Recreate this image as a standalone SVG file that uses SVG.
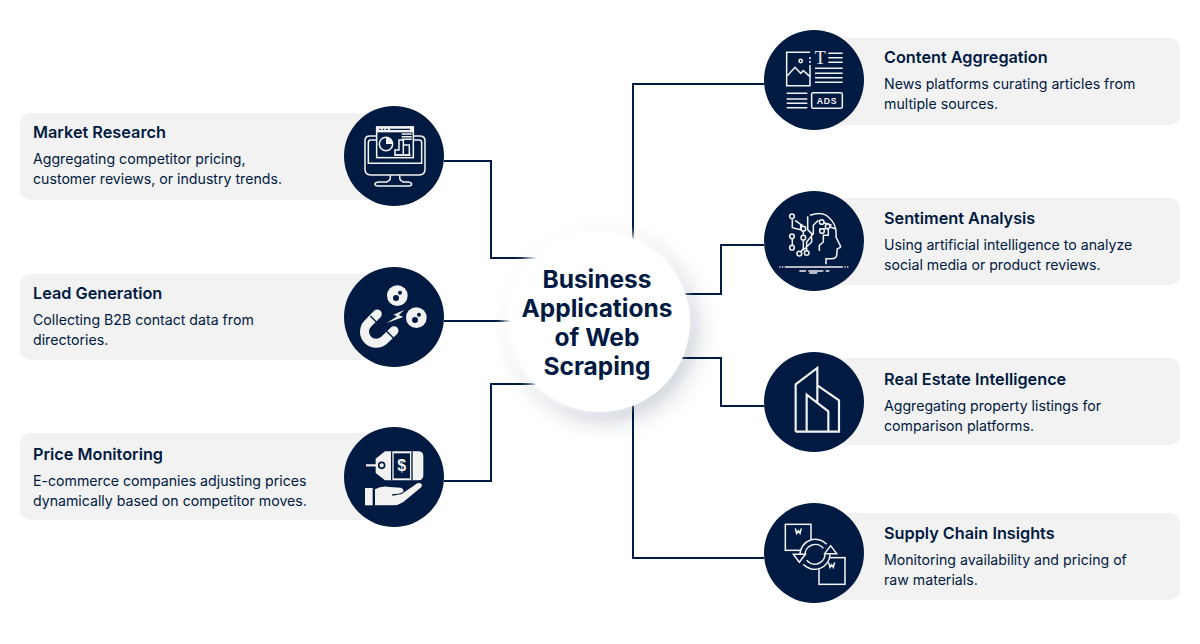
<svg xmlns="http://www.w3.org/2000/svg" width="1200" height="644" viewBox="0 0 1200 644">
<style>
.card{fill:#f2f2f2}
.disc{fill:#001a41}
.t{font-family:Inter,"Liberation Sans",sans-serif;font-size:16.25px;font-weight:600;fill:#001a41}
.b{font-family:Inter,"Liberation Sans",sans-serif;font-size:14.15px;fill:#001a41}
.c{font-family:Inter,"Liberation Sans",sans-serif;font-size:24.5px;font-weight:700;fill:#001a41;text-anchor:middle}
.l{fill:none;stroke:#f2f2f2;stroke-width:6.5}
.l2{fill:none;stroke:#f2f2f2;stroke-width:4.6}
.f{fill:#f2f2f2}
.n{fill:#001a41}
.nl{fill:none;stroke:#001a41;stroke-width:4}
.con{fill:none;stroke:#001a41;stroke-width:2}
.g{font-family:"Liberation Sans",sans-serif;font-weight:700;fill:#f2f2f2;text-anchor:middle}
</style>
<defs>
<filter id="sh" x="-40%" y="-40%" width="180%" height="180%"><feGaussianBlur stdDeviation="13"/></filter>
<filter id="hl" x="-20%" y="-20%" width="140%" height="140%"><feGaussianBlur stdDeviation="5"/></filter>
</defs>
<rect width="1200" height="644" fill="#fff"/>
<g id="connectors">
<path class="con" d="M444 161H491V258H540"/>
<path class="con" d="M444 321H515"/>
<path class="con" d="M444 481H491V384H540"/>
<path class="con" d="M764 84H633V240"/>
<path class="con" d="M764 245H721V294H680"/>
<path class="con" d="M764 406H721V358H680"/>
<path class="con" d="M764 558H633V405"/>
</g>
<g id="center">
<circle cx="606" cy="330" r="88" fill="#001a41" opacity=".26" filter="url(#sh)"/>
<circle cx="596" cy="319" r="92" fill="#fff" filter="url(#hl)"/>
<circle cx="600" cy="322" r="90" fill="#fff"/>
<text class="c" x="597" y="288">Business</text>
<text class="c" x="597" y="317">Applications</text>
<text class="c" x="597" y="346">of Web</text>
<text class="c" x="597" y="375">Scraping</text>
</g>
<g id="market-research">
<rect class="card" x="20" y="113" width="375" height="87" rx="10"/>
<text class="t" x="33" y="138">Market Research</text>
<text class="b" x="33" y="164">Aggregating competitor pricing,</text>
<text class="b" x="33" y="184">customer reviews, or industry trends.</text>
<circle class="disc" cx="394" cy="156" r="50"/>
<g transform="translate(340 100) scale(.3333)">
<path class="l2" d="M108 108H90Q75 108 75 122V208Q75 225 92 225H238Q255 225 255 208V122Q255 108 238 108H222"/>
<path class="l2" d="M108 120H92Q85 120 85 128V190H245V128Q245 120 238 120H222"/>
<path class="l2" d="M150 225Q155 240 140 246H115Q105 248 105 252Q105 258 115 258H205Q215 258 215 252Q215 248 205 246H190Q175 240 180 225"/>
<rect class="f" x="108" y="79" width="114" height="18"/>
<rect class="l2" x="110" y="81" width="110" height="92"/>
<path class="nl" d="M118 88h5M128 88h5M138 88h5M150 88h60"/>
<circle class="l2" cx="138" cy="132" r="20"/>
<path class="f" d="M138 112V132H158Q158 115 138 112Z"/>
<path class="l2" d="M165 165V150H177V120H190V135H208V165Z"/>
<path class="l2" d="M163 165H212M190 135V165M185 102h30M185 110h30M185 118h30"/>
</g>
</g>
<g id="lead-generation">
<rect class="card" x="20" y="274" width="375" height="86" rx="10"/>
<text class="t" x="33" y="299">Lead Generation</text>
<text class="b" x="33" y="325">Collecting B2B contact data from</text>
<text class="b" x="33" y="345">directories.</text>
<circle class="disc" cx="394" cy="317" r="50"/>
<g transform="translate(340 262) scale(.3333)">
<path d="M112 156L84 184A33 33 0 0 0 133 234L162 206" fill="none" stroke="#f2f2f2" stroke-width="27" stroke-linecap="round"/>
<path class="nl" d="M91 162L118 189M140 208L167 235"/>
<circle class="f" cx="172" cy="101" r="31"/>
<circle class="f" cx="229" cy="167" r="31"/>
<circle class="n" cx="180" cy="92" r="6"/><circle class="n" cx="168" cy="108" r="9"/>
<circle class="n" cx="237" cy="158" r="6"/><circle class="n" cx="225" cy="174" r="9"/>
<path class="f" d="M193 144L160 158L172 163L140 183L190 165L176 159Z"/>
</g>
</g>
<g id="price-monitoring">
<rect class="card" x="20" y="433" width="375" height="87" rx="10"/>
<text class="t" x="33" y="460">Price Monitoring</text>
<text class="b" x="33" y="486">E-commerce companies adjusting prices</text>
<text class="b" x="33" y="506">dynamically based on competitor moves.</text>
<circle class="disc" cx="394" cy="477" r="50"/>
<g transform="translate(340 422) scale(.3333)">
<path class="f" d="M107 110L135 88H235Q250 88 250 103V160Q250 175 235 175H135L107 153Z"/>
<rect class="n" x="153" y="88" width="4" height="87"/><rect class="n" x="214" y="88" width="4" height="87"/>
<rect class="n" x="161" y="94" width="49" height="75"/>
<text class="g" x="185" y="147" font-size="48">$</text>
<path class="l" d="M78 130H112"/>
<circle cx="125" cy="130" r="9" fill="#f2f2f2" stroke="#001a41" stroke-width="5"/>
<path class="f" d="M75 198H98V250H75Z"/>
<path class="f" d="M105 202Q125 190 150 195L182 197Q192 200 190 208Q187 214 175 215L155 217L158 221L185 216L232 184Q243 180 246 188Q246 195 240 199L190 240Q175 250 160 250H105Z"/>
</g>
</g>
<g id="content-aggregation">
<rect class="card" x="815" y="38" width="365" height="87" rx="10"/>
<text class="t" x="884" y="63">Content Aggregation</text>
<text class="b" x="884" y="89">News platforms curating articles from</text>
<text class="b" x="884" y="109">multiple sources.</text>
<circle class="disc" cx="814" cy="80" r="50"/>
<g transform="translate(760 25) scale(.3333)">
<path class="l2" d="M150 82H80V182H150V120M150 96V103M150 108V114"/>
<circle class="l2" cx="122" cy="108" r="5"/>
<path class="l2" d="M82 152L105 127L122 145L130 137L150 155"/>
<text class="g" x="181" y="118" font-size="54" style="font-family:'Liberation Serif',serif;font-weight:400">T</text>
<path class="l2" d="M205 85H248M205 98H248M205 112H248M165 130H248M165 145H248M165 158H248M165 172H248M80 205H142M80 222H142M80 235H142M80 248H142"/>
<rect class="l2" x="155" y="203" width="92" height="47" rx="5"/>
<text class="g" x="201" y="236" font-size="26" letter-spacing="2">ADS</text>
</g>
</g>
<g id="sentiment-analysis">
<rect class="card" x="815" y="198" width="365" height="87" rx="10"/>
<text class="t" x="884" y="224">Sentiment Analysis</text>
<text class="b" x="884" y="250">Using artificial intelligence to analyze</text>
<text class="b" x="884" y="270">social media or product reviews.</text>
<circle class="disc" cx="814" cy="241" r="50"/>
<g transform="translate(760 187) scale(.3333)">
<path class="l2" d="M150 85Q185 72 205 90Q232 112 228 150L242 178Q242 183 232 185L230 205Q228 216 212 215H198V232"/>
<path class="l2" d="M97 97V122L122 128V112L105 100M130 125L125 112M130 132V143M143 88V128L155 140V165L130 190M97 150V175M130 160V185L120 198M175 100L160 115V140L140 165V192M178 125H205V145H190V165L178 175V192M205 118L225 125M185 105L215 115"/>
<g fill="#001a41" stroke="#f2f2f2" stroke-width="4.6">
<circle cx="96" cy="88" r="7"/><circle cx="130" cy="125" r="7"/><circle cx="96" cy="148" r="7"/><circle cx="96" cy="182" r="7"/><circle cx="130" cy="152" r="7"/><circle cx="118" cy="200" r="7"/><circle cx="140" cy="198" r="7"/><circle cx="185" cy="105" r="7"/><circle cx="203" cy="118" r="7"/><circle cx="186" cy="132" r="7"/>
</g>
<path class="l2" d="M75 240H245"/>
<path class="l2" stroke-dasharray="4 4" d="M58 240H75M245 240H268"/>
<path class="l2" d="M118 252H138M145 252H190M197 252H208M148 258H172"/>
</g>
</g>
<g id="real-estate-intelligence">
<rect class="card" x="815" y="358" width="365" height="87" rx="10"/>
<text class="t" x="884" y="385">Real Estate Intelligence</text>
<text class="b" x="884" y="411">Aggregating property listings for</text>
<text class="b" x="884" y="431">comparison platforms.</text>
<circle class="disc" cx="814" cy="402" r="50"/>
<g transform="translate(760 352) scale(.3333)">
<path class="l" d="M107 239V97L172 48V150M172 100L237 145V239H107M140 239V128L205 178V239"/>
</g>
</g>
<g id="supply-chain-insights">
<rect class="card" x="815" y="513" width="365" height="87" rx="10"/>
<text class="t" x="884" y="539">Supply Chain Insights</text>
<text class="b" x="884" y="565">Monitoring availability and pricing of</text>
<text class="b" x="884" y="585">raw materials.</text>
<circle class="disc" cx="814" cy="553" r="50"/>
<g transform="translate(760 499) scale(.3333)">
<rect class="l2" x="76" y="76" width="77" height="78"/>
<path class="l2" d="M106 88L110 103L115 95L120 103L124 88"/>
<rect class="l2" x="177" y="176" width="78" height="80"/>
<path class="l2" d="M206 190L210 205L215 197L220 205L224 190"/>
<circle cx="165" cy="166" r="46" class="n"/>
<path class="l2" d="M120 166A46 46 0 0 1 200 136M210 166A46 46 0 0 1 130 196"/>
<path class="l2" d="M135 170A31 31 0 0 1 190 148M195 162A31 31 0 0 1 140 184"/>
<path class="l2" d="M100 166H136L118 190ZM230 164H194L212 140Z"/>
</g>
</g>
</svg>
